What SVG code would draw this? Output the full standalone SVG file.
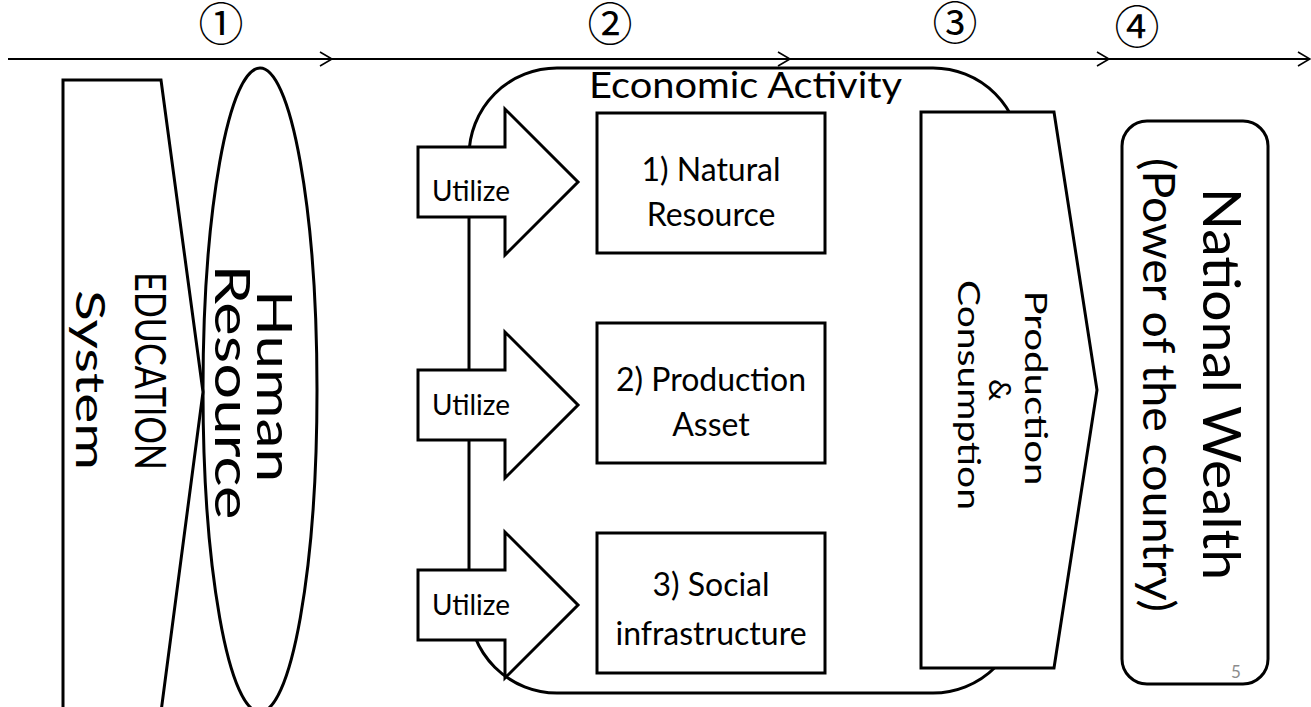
<svg xmlns="http://www.w3.org/2000/svg" width="1311" height="707" viewBox="0 0 1311 707">
<defs>
<style>
.sh{fill:#fff;stroke:#000;stroke-width:3;stroke-linejoin:miter}
.t{font-family:Lato,"Liberation Sans",sans-serif;fill:#000}
.num{font-family:"Noto Sans CJK JP","DejaVu Sans",sans-serif;fill:#000;font-size:45px;text-anchor:middle}
.tl{stroke:#000;stroke-width:1.8;fill:none}
</style>
<marker id="chev" markerUnits="userSpaceOnUse" markerWidth="16" markerHeight="16" refX="13" refY="8" orient="auto">
<path d="M1,1 L13,8 L1,15" fill="none" stroke="#000" stroke-width="1.6"/>
</marker>
</defs>
<rect width="1311" height="707" fill="#fff"/>

<g id="connectors">
<line class="tl" x1="8" y1="59" x2="332" y2="59" marker-end="url(#chev)"/>
<line class="tl" x1="332" y1="59" x2="790" y2="59" marker-end="url(#chev)"/>
<line class="tl" x1="790" y1="59" x2="1109" y2="59" marker-end="url(#chev)"/>
<line class="tl" x1="1109" y1="59" x2="1310" y2="59" marker-end="url(#chev)"/>
</g>

<g id="steps">
<text class="num" x="221" y="41">①</text>
<text class="num" x="610" y="41">②</text>
<text class="num" x="955" y="40">③</text>
<text class="num" x="1137" y="44">④</text>
</g>

<g id="economic-activity">
<rect class="sh" x="469" y="68" width="552" height="625" rx="88" ry="88"/>
<text class="t" x="589" y="98" font-size="37" textLength="313" lengthAdjust="spacingAndGlyphs">Economic Activity</text>
</g>

<g id="human-resource">
<ellipse class="sh" cx="260" cy="390" rx="57" ry="322"/>
<text class="t" transform="translate(257,386) rotate(90)" text-anchor="middle" font-size="48" textLength="192" lengthAdjust="spacingAndGlyphs">Human</text>
<text class="t" transform="translate(215,392) rotate(90)" text-anchor="middle" font-size="48" textLength="255" lengthAdjust="spacingAndGlyphs">Resource</text>
</g>

<g id="education">
<polygon class="sh" points="63,80 161,80 203,392 161,712 63,712"/>
<text class="t" transform="translate(135,371) rotate(90)" text-anchor="middle" font-size="43" textLength="198" lengthAdjust="spacingAndGlyphs">EDUCATION</text>
<text class="t" transform="translate(76,380) rotate(90)" text-anchor="middle" font-size="40" textLength="180" lengthAdjust="spacingAndGlyphs">System</text>
</g>

<g id="utilize-1">
<polygon class="sh" points="418,147 505,147 505,109 578,182 505,255 505,217 418,217"/>
<text class="t" x="471" y="201" font-size="28" text-anchor="middle" textLength="78" lengthAdjust="spacingAndGlyphs">Utilize</text>
</g>
<g id="utilize-2">
<polygon class="sh" points="418,370 505,370 505,332 578,405 505,478 505,440 418,440"/>
<text class="t" x="471" y="415" font-size="28" text-anchor="middle" textLength="78" lengthAdjust="spacingAndGlyphs">Utilize</text>
</g>
<g id="utilize-3">
<polygon class="sh" points="418,570 505,570 505,532 578,605 505,678 505,640 418,640"/>
<text class="t" x="471" y="615" font-size="28" text-anchor="middle" textLength="78" lengthAdjust="spacingAndGlyphs">Utilize</text>
</g>

<g id="natural-resource">
<rect class="sh" x="597" y="113" width="228" height="140"/>
<text class="t" x="711" y="181" font-size="32" text-anchor="middle">1) Natural</text>
<text class="t" x="711" y="226" font-size="32" text-anchor="middle">Resource</text>
</g>
<g id="production-asset">
<rect class="sh" x="597" y="323" width="228" height="140"/>
<text class="t" x="711" y="391" font-size="32" text-anchor="middle">2) Production</text>
<text class="t" x="711" y="436" font-size="32" text-anchor="middle">Asset</text>
</g>
<g id="social-infrastructure">
<rect class="sh" x="597" y="533" width="228" height="140"/>
<text class="t" x="711" y="596" font-size="32" text-anchor="middle">3) Social</text>
<text class="t" x="711" y="645" font-size="32" text-anchor="middle">infrastructure</text>
</g>

<g id="production-consumption">
<polygon class="sh" points="921,112 1054,112 1097,390 1054,668 921,668"/>
<text class="t" transform="translate(1025,388) rotate(90)" text-anchor="middle" font-size="31" textLength="195" lengthAdjust="spacingAndGlyphs">Production</text>
<text class="t" transform="translate(989,390) rotate(90)" text-anchor="middle" font-size="31">&amp;</text>
<text class="t" transform="translate(958,395) rotate(90)" text-anchor="middle" font-size="31" textLength="230" lengthAdjust="spacingAndGlyphs">Consumption</text>
</g>

<g id="national-wealth">
<rect class="sh" x="1122" y="121" width="146" height="563" rx="25" ry="25"/>
<text class="t" transform="translate(1203,384) rotate(90)" text-anchor="middle" font-size="52" textLength="392" lengthAdjust="spacingAndGlyphs">National Wealth</text>
<text class="t" transform="translate(1143,385) rotate(90)" text-anchor="middle" font-size="44" textLength="454" lengthAdjust="spacingAndGlyphs">(Power of the country)</text>
</g>

<g id="page-number">
<text x="1236" y="678" font-family="Lato,'Liberation Sans',sans-serif" font-size="17" fill="#8c8c8c" text-anchor="middle">5</text>
</g>
</svg>
